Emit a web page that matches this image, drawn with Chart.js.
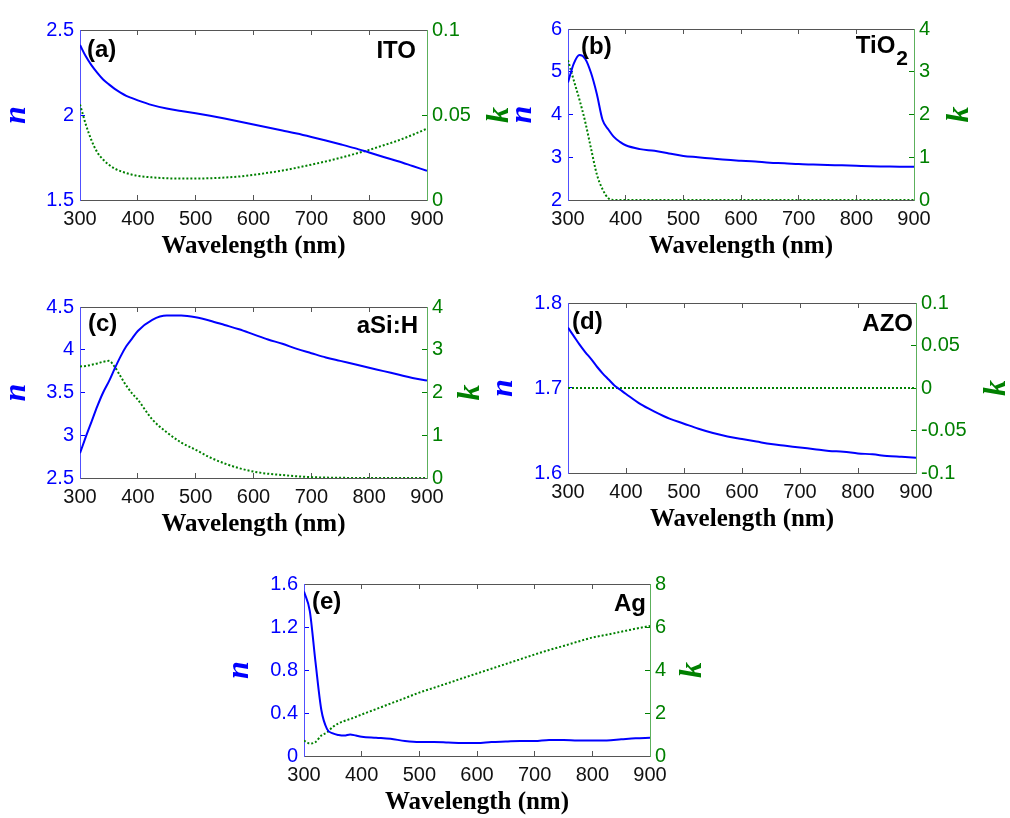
<!DOCTYPE html>
<html lang="en">
<head>
<meta charset="UTF-8">
<title>n and k of ITO, TiO2, aSi:H, AZO, Ag</title>
<style>
  html, body { margin: 0; padding: 0; background: #fff; overflow: hidden; }
  #page { position: relative; width: 1010px; height: 818px; }
  #page canvas { position: absolute; }
</style>
</head>
<body>
<div id="page">
  <canvas id="chartA"></canvas>
  <canvas id="chartB"></canvas>
  <canvas id="chartC"></canvas>
  <canvas id="chartD"></canvas>
  <canvas id="chartE"></canvas>
</div>

<script src="https://cdn.jsdelivr.net/npm/chart.js"></script>
<script>
// wavelength grid (nm), shared by every panel
const wavelength = [300, 310, 320, 330, 340, 350, 360, 370, 380, 390, 400, 425, 450, 475, 500, 525, 550, 575, 600,
                    625, 650, 675, 700, 725, 750, 775, 800, 825, 850, 875, 900];

// (a) ITO
const itoN = [2.412, 2.345, 2.292, 2.248, 2.209, 2.18, 2.154, 2.132, 2.113, 2.099, 2.086, 2.058, 2.038, 2.024, 2.010,
              1.995, 1.979, 1.962, 1.944, 1.927, 1.909, 1.891, 1.871, 1.85, 1.828, 1.805, 1.779, 1.753, 1.728, 1.70,
              1.672];
const itoK = [0.0562, 0.0445, 0.035, 0.028, 0.0238, 0.0207, 0.0185, 0.017, 0.0158, 0.0149, 0.0142, 0.0133, 0.0128,
              0.0126, 0.0126, 0.0128, 0.0132, 0.0138, 0.0148, 0.016, 0.0173, 0.019, 0.0208, 0.0227, 0.0248, 0.0271,
              0.0295, 0.0322, 0.035, 0.0383, 0.042];
// (b) TiO2
const tio2N = [4.75, 5.19, 5.39, 5.30, 4.97, 4.48, 3.87, 3.65, 3.47, 3.36, 3.28, 3.19, 3.15, 3.09, 3.03, 3.00, 2.97,
               2.94, 2.92, 2.90, 2.87, 2.86, 2.84, 2.83, 2.82, 2.81, 2.80, 2.79, 2.785, 2.78, 2.78];
const tio2K = [3.27, 2.80, 2.34, 1.82, 1.20, 0.60, 0.25, 0.04, 0, 0, 0, 0, 0, 0, 0, 0, 0, 0, 0, 0, 0, 0, 0, 0, 0, 0,
               0, 0, 0, 0, 0];
// (c) aSi:H
const asiN = [2.79, 2.98, 3.16, 3.34, 3.50, 3.63, 3.78, 3.92, 4.04, 4.13, 4.22, 4.35, 4.40, 4.40, 4.38, 4.34, 4.29,
              4.24, 4.18, 4.12, 4.07, 4.01, 3.96, 3.91, 3.87, 3.83, 3.79, 3.75, 3.71, 3.67, 3.64];
const asiK = [2.61, 2.62, 2.65, 2.68, 2.72, 2.74, 2.60, 2.38, 2.16, 1.98, 1.83, 1.37, 1.07, 0.83, 0.66, 0.48, 0.34,
              0.23, 0.15, 0.10, 0.07, 0.04, 0.02, 0.01, 0.005, 0, 0, 0, 0, 0, 0];
// (d) AZO
const azoN = [1.771, 1.761, 1.751, 1.742, 1.734, 1.725, 1.717, 1.710, 1.703, 1.698, 1.693, 1.681, 1.672, 1.664, 1.658,
              1.652, 1.647, 1.643, 1.640, 1.637, 1.634, 1.632, 1.630, 1.628, 1.626, 1.625, 1.623, 1.622, 1.620, 1.619,
              1.618];
const azoK = [0, 0, 0, 0, 0, 0, 0, 0, 0, 0, 0, 0, 0, 0, 0, 0, 0, 0, 0, 0, 0, 0, 0, 0, 0, 0, 0, 0, 0, 0, 0];
// (e) Ag
const agN = [1.53, 1.35, 0.87, 0.43, 0.25, 0.21, 0.195, 0.19, 0.20, 0.19, 0.18, 0.17, 0.16, 0.14, 0.13, 0.13, 0.125,
             0.12, 0.12, 0.13, 0.135, 0.14, 0.14, 0.15, 0.15, 0.145, 0.145, 0.145, 0.155, 0.165, 0.17];
const agK = [0.72, 0.58, 0.65, 0.95, 1.10, 1.35, 1.52, 1.63, 1.72, 1.82, 1.93, 2.18, 2.44, 2.69, 2.95, 3.17, 3.39,
             3.62, 3.84, 4.06, 4.28, 4.50, 4.72, 4.93, 5.12, 5.32, 5.51, 5.64, 5.78, 5.92, 6.05];

// axis ranges [min, max, step]
const nRanges = [[1.5, 2.5, 0.5], [2, 6, 1], [2.5, 4.5, 0.5], [1.6, 1.8, 0.1], [0, 1.6, 0.4]];
const kRanges = [[0, 0.1, 0.05], [0, 4, 1], [0, 4, 1], [-0.1, 0.1, 0.05], [0, 8, 2]];
const tags = ['(a)', '(b)', '(c)', '(d)', '(e)'];
const materials = ['ITO', 'TiO', 'aSi:H', 'AZO', 'Ag'];

const BLUE = '#0000ff';
const GREEN = '#008000';
Chart.defaults.font.family = '"Liberation Sans", Arial, sans-serif';

// n / k titles (rotated, read bottom to top) and the panel texts
const nkLabels = {
    id: 'nkLabels',
    afterDraw(chart, args, o) {
        const ctx = chart.ctx, a = chart.chartArea;
        const midY = (a.top + a.bottom) / 2;
        ctx.save();
        ctx.textAlign = 'center';
        ctx.textBaseline = 'middle';
        ctx.font = 'bold italic 32px "Liberation Serif"';
        [[a.left - o.nGap, BLUE, 'n'], [a.right + o.kGap, GREEN, 'k']].forEach(([x, c, t]) => {
            ctx.save();
            ctx.translate(x, midY);
            ctx.rotate(-Math.PI / 2);
            ctx.fillStyle = c;
            ctx.fillText(t, 0, 0);
            ctx.restore();
        });
        ctx.fillStyle = '#000';
        ctx.font = 'bold 24px "Liberation Sans"';
        ctx.textAlign = 'left';
        ctx.fillText(o.tag, a.left + o.tagX, a.top + o.tagY);
        ctx.textAlign = 'right';
        let x = a.right - o.nameX;
        if (o.sub) {
            ctx.font = 'bold 21px "Liberation Sans"';
            ctx.fillText(o.sub, x, a.top + o.nameY + 13);
            x -= ctx.measureText(o.sub).width + 1;
            ctx.font = 'bold 24px "Liberation Sans"';
        }
        ctx.fillText(o.name, x, a.top + o.nameY);
        ctx.restore();
    }
};

const fmt = v => +v.toFixed(2);

function makePanel(id, i, box, nVals, kVals, txt) {
    const cv = document.getElementById(id);
    cv.width = box.r - box.l + 200;
    cv.height = box.b - box.t + 92;
    cv.style.left = (box.l - 100) + 'px';
    cv.style.top = (box.t - 12) + 'px';

    const tickGrid = c => ({ drawOnChartArea: false, tickLength: -5, color: c });
    return new Chart(cv, {
        type: 'line',
        data: {
            datasets: [{
                data: wavelength.map((w, j) => ({ x: w, y: nVals[j] })),
                yAxisID: 'y',
                borderColor: BLUE,
                borderWidth: 2,
                cubicInterpolationMode: 'monotone',
                pointRadius: 0
            }, {
                data: wavelength.map((w, j) => ({ x: w, y: kVals[j] })),
                yAxisID: 'y1',
                borderColor: GREEN,
                borderWidth: 2,
                borderDash: [2, 2],
                cubicInterpolationMode: 'monotone',
                pointRadius: 0
            }]
        },
        options: {
            responsive: false,
            animation: false,
            layout: { padding: { top: 12 } },
            plugins: { legend: { display: false }, tooltip: { enabled: false }, nkLabels: txt },
            scales: {
                x: {
                    type: 'linear', position: 'bottom', min: 300, max: 900,
                    ticks: { stepSize: 100, color: '#111', padding: 12, font: { size: 20 } },
                    grid: tickGrid('#555'),
                    border: { color: '#555' },
                    title: {
                        display: true, text: 'Wavelength (nm)', color: '#000',
                        font: { family: '"Liberation Serif"', size: 25, weight: 'bold' },
                        padding: { top: 0, bottom: 18 }
                    },
                    afterFit: s => { s.height = 80; }
                },
                x2: {
                    type: 'linear', position: 'top', min: 300, max: 900,
                    ticks: { stepSize: 100, display: false },
                    grid: tickGrid('#555'),
                    border: { color: '#555' },
                    afterFit: s => { s.height = 0; }
                },
                y: {
                    position: 'left', min: nRanges[i][0], max: nRanges[i][1],
                    ticks: { stepSize: nRanges[i][2], color: BLUE, padding: 11, font: { size: 20 }, callback: fmt },
                    grid: tickGrid(BLUE),
                    border: { color: '#5050ff' },
                    afterFit: s => { s.width = 100; }
                },
                y1: {
                    position: 'right', min: kRanges[i][0], max: kRanges[i][1],
                    ticks: { stepSize: kRanges[i][2], color: GREEN, padding: 10, font: { size: 20 }, callback: fmt },
                    grid: tickGrid(GREEN),
                    border: { color: '#5cb05c' },
                    afterFit: s => { s.width = 100; }
                }
            }
        },
        plugins: [nkLabels]
    });
}

makePanel('chartA', 0, { l: 80, t: 19, r: 427, b: 200 }, itoN, itoK,
    { nGap: 63, kGap: 73, tag: tags[0], tagX: 7, tagY: 20, name: materials[0], nameX: 11, nameY: 21 });
makePanel('chartB', 1, { l: 568, t: 18, r: 914, b: 200 }, tio2N, tio2K,
    { nGap: 45, kGap: 46, tag: tags[1], tagX: 13, tagY: 18, name: materials[1], sub: '2', nameX: 6, nameY: 17 });
makePanel('chartC', 2, { l: 80, t: 296, r: 427, b: 478 }, asiN, asiK,
    { nGap: 63, kGap: 44, tag: tags[2], tagX: 8, tagY: 17, name: materials[2], nameX: 9, nameY: 19 });
makePanel('chartD', 3, { l: 568, t: 292, r: 916, b: 473 }, azoN, azoK,
    { nGap: 64, kGap: 81, tag: tags[3], tagX: 4, tagY: 19, name: materials[3], nameX: 3, nameY: 21 });
makePanel('chartE', 4, { l: 304, t: 573, r: 650, b: 756 }, agN, agK,
    { nGap: 64, kGap: 43, tag: tags[4], tagX: 8, tagY: 18, name: materials[4], nameX: 4, nameY: 20 });
</script>
</body>
</html>
